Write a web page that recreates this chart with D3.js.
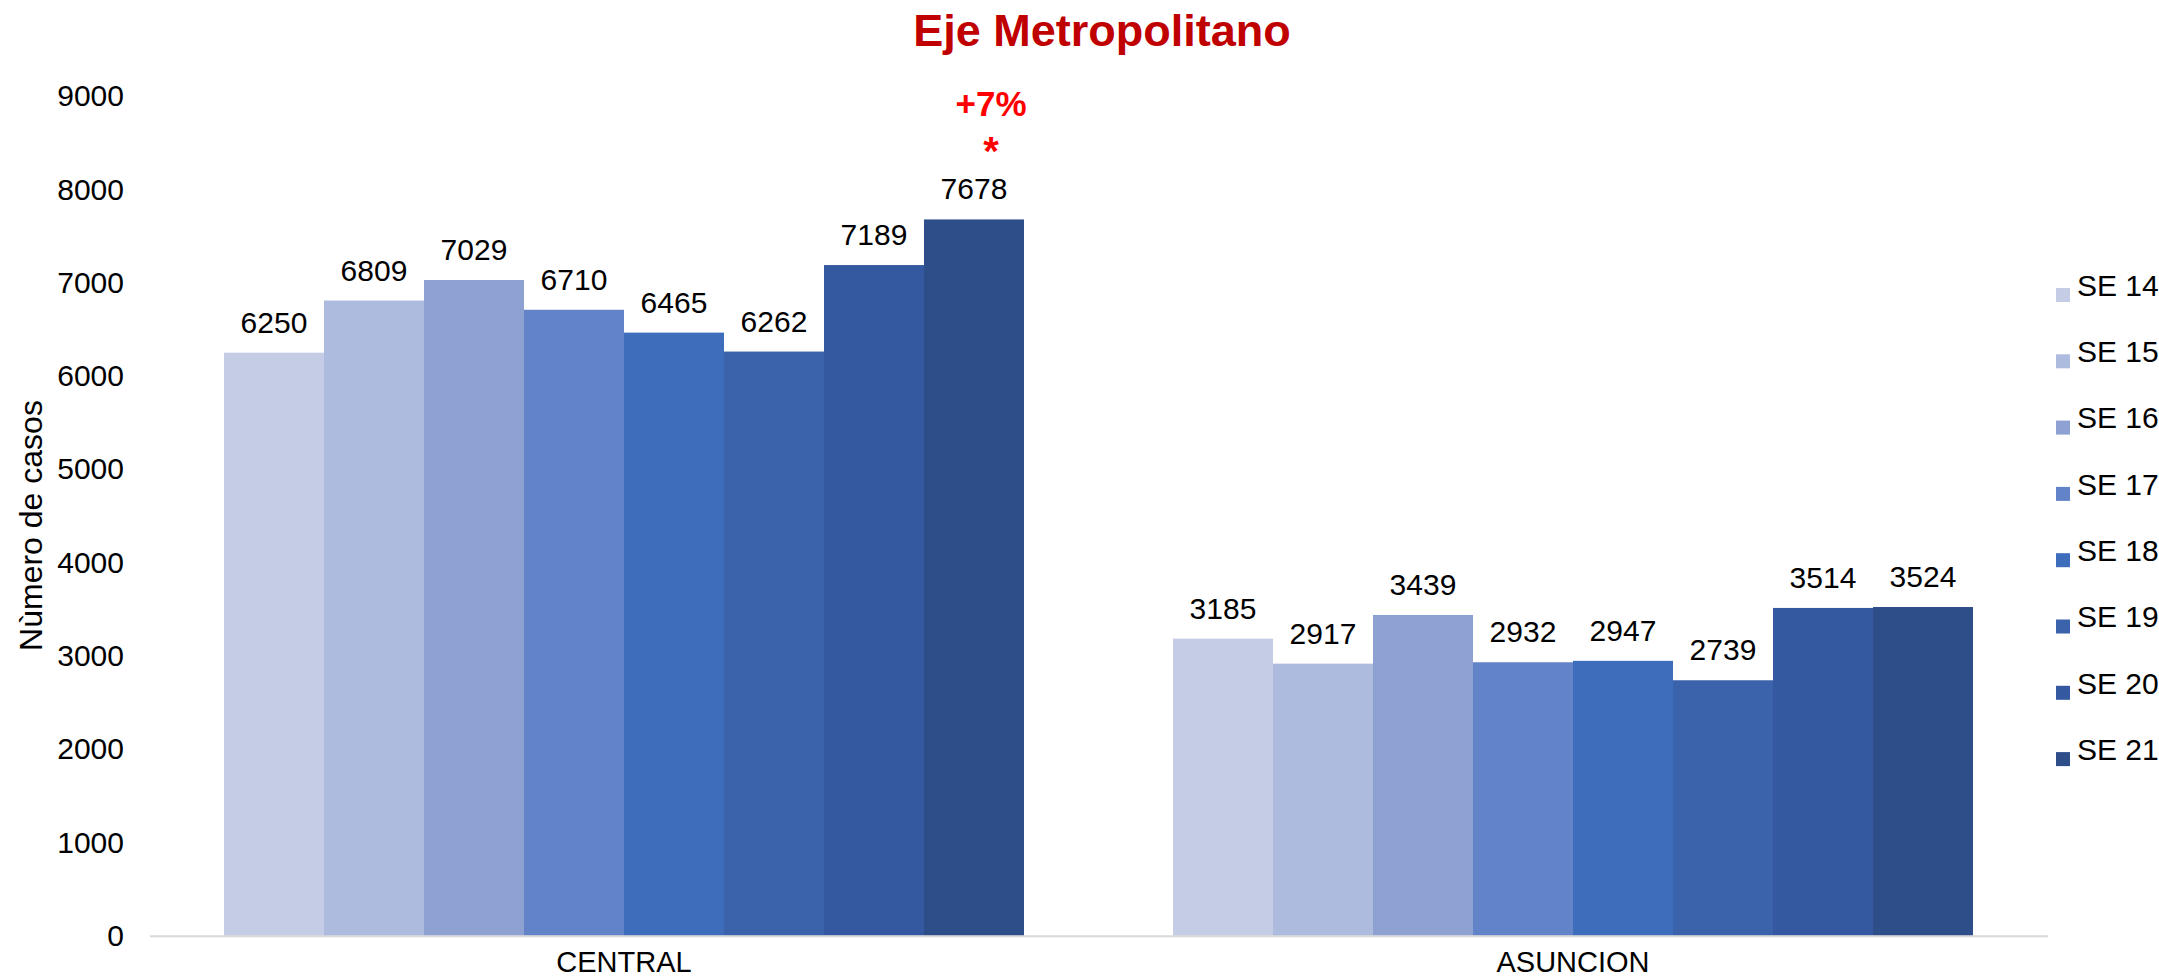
<!DOCTYPE html>
<html>
<head>
<meta charset="utf-8">
<script src="https://cdn.jsdelivr.net/npm/d3@7/dist/d3.min.js"></script>
<style>
  html, body { margin: 0; padding: 0; background: #ffffff; }
  svg { display: block; font-family: "Liberation Sans", Arial, sans-serif; }
</style>
</head>
<body>
<svg id="chart" width="2159" height="980"></svg>
<script>
// ---- Data ----
const categories = ["CENTRAL", "ASUNCION"];
const series = ["SE 14", "SE 15", "SE 16", "SE 17", "SE 18", "SE 19", "SE 20", "SE 21"];
const centralValues = [6250, 6809, 7029, 6710, 6465, 6262, 7189, 7678];
const asuncionValues = [3185, 2917, 3439, 2932, 2947, 2739, 3514, 3524];
const yTickValues = [0, 1000, 2000, 3000, 4000, 5000, 6000, 7000, 8000, 9000];
const seriesColors = ["#C5CDE6", "#ADBBDE", "#8EA1D3", "#6383C8", "#3E6DBC", "#3B63AB", "#3459A0", "#2D4E89"];
const titleText = "Eje Metropolitano";
const yAxisLabel = "Nùmero de casos";
const annotationPct = "+7%";

const valuesByCategory = { "CENTRAL": centralValues, "ASUNCION": asuncionValues };
const rows = categories.map(c => ({
  category: c,
  values: series.map((s, i) => ({ series: s, value: valuesByCategory[c][i] }))
}));

// ---- Layout ----
const svg = d3.select("#chart");
const x0 = d3.scaleBand().domain(categories).range([149.5, 2047.5]).paddingInner(0.157).paddingOuter(0.0785);
const x1 = d3.scaleBand().domain(series).range([0, x0.bandwidth()]).padding(0);
const y = d3.scaleLinear().domain([0, 9000]).range([935.8, 96.1]);
const color = d3.scaleOrdinal().domain(series).range(seriesColors);

// Title
svg.append("text")
  .attr("x", 1102).attr("y", 46)
  .attr("text-anchor", "middle")
  .attr("font-size", 45).attr("font-weight", "bold")
  .attr("fill", "#C00000")
  .text(titleText);

// Y axis
const yAxis = d3.axisLeft(y).tickValues(yTickValues).tickSize(0).tickPadding(0).tickFormat(d3.format("d"));
const yG = svg.append("g").attr("transform", "translate(124,0)").call(yAxis);
yG.select(".domain").remove();
yG.selectAll("text").attr("font-size", 30).attr("fill", "#000").attr("font-family", "\"Liberation Sans\", Arial, sans-serif");

// Y axis label
svg.append("text")
  .attr("transform", "translate(42,525.5) rotate(-90)")
  .attr("text-anchor", "middle")
  .attr("font-size", 32)
  .attr("fill", "#000")
  .text(yAxisLabel);

// Bars
const groups = svg.append("g").selectAll("g")
  .data(rows).join("g")
  .attr("transform", d => `translate(${x0(d.category)},0)`);

groups.selectAll("rect")
  .data(d => d.values).join("rect")
  .attr("x", d => x1(d.series))
  .attr("y", d => y(d.value))
  .attr("width", x1.bandwidth())
  .attr("height", d => y(0) - y(d.value))
  .attr("fill", d => color(d.series));

// Data labels
groups.selectAll("text.val")
  .data(d => d.values).join("text")
  .attr("class", "val")
  .attr("x", d => x1(d.series) + x1.bandwidth() / 2)
  .attr("y", d => y(d.value) - 20)
  .attr("text-anchor", "middle")
  .attr("font-size", 30)
  .attr("fill", "#000")
  .text(d => d.value);

// X axis
const xAxis = d3.axisBottom(x0).tickSize(0).tickPadding(0);
const xG = svg.append("g").attr("transform", `translate(0,${y(0)})`).call(xAxis);
xG.select(".domain").attr("stroke", "#D9D9D9").attr("stroke-width", 2);
xG.selectAll("text").attr("font-size", 29).attr("fill", "#000")
  .attr("dy", 0).attr("y", 36)
  .attr("font-family", "\"Liberation Sans\", Arial, sans-serif");

// Annotation above CENTRAL SE 21
const annX = x0("CENTRAL") + x1("SE 21") + x1.bandwidth() / 2 + 17;
svg.append("text")
  .attr("x", annX).attr("y", 116)
  .attr("text-anchor", "middle")
  .attr("font-size", 35).attr("font-weight", "bold")
  .attr("fill", "#FF0000")
  .text(annotationPct);
svg.append("text")
  .attr("x", annX).attr("y", 165)
  .attr("text-anchor", "middle")
  .attr("font-size", 40).attr("font-weight", "bold")
  .attr("fill", "#FF0000")
  .text("*");

// Legend
const legend = svg.append("g").selectAll("g")
  .data(series).join("g")
  .attr("transform", (d, i) => `translate(2056,${285 + i * 66.3})`);
legend.append("rect")
  .attr("x", 0).attr("y", 3).attr("width", 14).attr("height", 14)
  .attr("fill", d => color(d));
legend.append("text")
  .attr("x", 21).attr("y", 10.7)
  .attr("font-size", 30).attr("fill", "#000")
  .text(d => d);
</script>
</body>
</html>
